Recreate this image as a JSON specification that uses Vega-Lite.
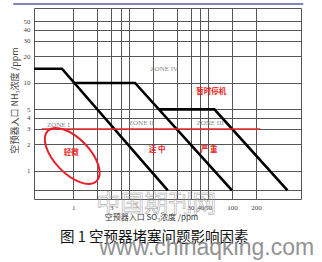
{
  "$schema": "https://vega.github.io/schema/vega-lite/v6.json",
  "width": 267,
  "height": 191,
  "autosize": {"type": "none"},
  "padding": {"left": 34, "top": 8, "right": 21, "bottom": 63},
  "background": "white",
  "config": {
    "font": "Noto Sans CJK SC",
    "view": {"stroke": "#555", "strokeWidth": 1}
  },
  "datasets": {
    "curves": [
      {"series": "A", "i": 0, "x": 0.32, "y": 14.5},
      {"series": "A", "i": 1, "x": 0.72, "y": 14.5},
      {"series": "A", "i": 2, "x": 15.5, "y": 0.6},
      {"series": "B", "i": 0, "x": 1.0, "y": 10},
      {"series": "B", "i": 1, "x": 6.0, "y": 10},
      {"series": "B", "i": 2, "x": 100, "y": 0.6},
      {"series": "C", "i": 0, "x": 12, "y": 5},
      {"series": "C", "i": 1, "x": 60, "y": 5},
      {"series": "C", "i": 2, "x": 500, "y": 0.6}
    ],
    "limit": [{"x": 0.4, "x2": 226, "y": 3}],
    "header": [{"x": 0.175, "x2": 790, "y": 79}],
    "region": [{"x": 0.97, "y": 1.48}],
    "zones": [
      {"label": "ZONE I", "x": 0.65, "y": 3.33},
      {"label": "ZONE II", "x": 7.2, "y": 3.5},
      {"label": "ZONE III", "x": 53, "y": 3.5},
      {"label": "ZONE IV", "x": 14, "y": 14.4}
    ],
    "levels": [
      {"label": "轻微", "x": 0.94, "y": 1.6},
      {"label": "适 中", "x": 11.4, "y": 1.73},
      {"label": "严 重", "x": 51.6, "y": 1.73},
      {"label": "暂时停机", "x": 54.7, "y": 7.9}
    ],
    "caption": [
      {"label": "图 1  空预器堵塞问题影响因素", "x": 10.5, "y": 0.173}
    ],
    "marks": [
      {"label": "中国期刊网", "x": 11.1, "y": 0.41}
    ],
    "site": [
      {"label": "www.chinaqking.com", "x": 48, "y": 0.111}
    ]
  },
  "encoding": {
    "x": {
      "field": "x",
      "type": "quantitative",
      "scale": {"type": "log", "domain": [0.32, 740], "nice": false},
      "axis": {
        "values": [1, 2, 3, 4, 5, 10, 20, 30, 40, 50, 100, 200],
        "labelExpr": "indexof([1, 3, 30, 40, 50, 100, 200], datum.value) >= 0 ? '' + datum.value : ''",
        "grid": true,
        "gridColor": "#555",
        "gridOpacity": 1,
        "gridWidth": 1,
        "domain": false,
        "ticks": false,
        "labelFont": "Liberation Sans Narrow",
        "labelFontSize": 7,
        "labelColor": "#444",
        "labelPadding": 4,
        "labelFlush": false,
        "labelOverlap": false,
        "title": "空预器入口 SO₃浓度 /ppm",
        "titleFont": "Noto Sans CJK SC",
        "titleFontSize": 8,
        "titleFontWeight": "normal",
        "titleColor": "#333",
        "titleAlign": "center",
        "titleBaseline": "middle",
        "titleX": 117,
        "titleY": 18
      }
    },
    "y": {
      "field": "y",
      "type": "quantitative",
      "scale": {"type": "log", "domain": [0.48, 71], "nice": false},
      "axis": {
        "values": [0.6, 1, 2, 3, 4, 5, 10, 20, 30, 40, 50],
        "labelExpr": "datum.value >= 1 ? '' + datum.value : ''",
        "grid": true,
        "gridColor": "#555",
        "gridOpacity": 1,
        "gridWidth": 1,
        "domain": false,
        "ticks": false,
        "labelFont": "Liberation Sans Narrow",
        "labelFontSize": 7,
        "labelColor": "#444",
        "labelPadding": 4,
        "labelFlush": false,
        "labelOverlap": false,
        "title": "空预器入口 NH₃浓度 /ppm",
        "titleFont": "Noto Sans CJK SC",
        "titleFontSize": 9,
        "titleFontWeight": "normal",
        "titleColor": "#444",
        "titleAlign": "center",
        "titleBaseline": "middle",
        "titleX": -20,
        "titleY": 92
      }
    }
  },
  "layer": [
    {
      "data": {"name": "header"},
      "mark": {"type": "rule", "color": "#5a5aa8", "strokeWidth": 1.5},
      "encoding": {"x2": {"field": "x2"}}
    },
    {
      "data": {"name": "curves"},
      "mark": {"type": "line", "color": "#000", "strokeWidth": 2.6, "strokeJoin": "miter"},
      "encoding": {
        "detail": {"field": "series"},
        "order": {"field": "i", "type": "quantitative"}
      }
    },
    {
      "data": {"name": "limit"},
      "mark": {"type": "rule", "color": "#ee2a2a", "strokeWidth": 1.6},
      "encoding": {"x2": {"field": "x2"}}
    },
    {
      "data": {"name": "region"},
      "mark": {
        "type": "point",
        "shape": "M -1 0 A 1 0.5 0 1 1 1 0 A 1 0.5 0 1 1 -1 0 Z",
        "size": 4900,
        "angle": 46,
        "filled": false,
        "color": "#e8202a",
        "strokeWidth": 2,
        "opacity": 1
      }
    },
    {
      "data": {"name": "zones"},
      "mark": {"type": "text", "font": "Liberation Sans Narrow", "fontSize": 7, "color": "#888"},
      "encoding": {"text": {"field": "label"}}
    },
    {
      "data": {"name": "levels"},
      "mark": {"type": "text", "font": "Noto Sans CJK SC", "fontSize": 7.5, "fontWeight": "bold", "color": "#ee2222"},
      "encoding": {"text": {"field": "label"}}
    },
    {
      "data": {"name": "marks"},
      "mark": {"type": "text", "font": "Noto Sans CJK SC", "fontSize": 24, "fill": "#ffffff", "fillOpacity": 0, "stroke": "#999", "strokeWidth": 0.5},
      "encoding": {"text": {"field": "label"}}
    },
    {
      "data": {"name": "caption"},
      "mark": {"type": "text", "font": "Noto Sans CJK SC", "fontSize": 14.5, "color": "#111"},
      "encoding": {"text": {"field": "label"}}
    },
    {
      "data": {"name": "site"},
      "mark": {"type": "text", "font": "Liberation Sans", "fontSize": 23, "baseline": "alphabetic", "color": "#888", "opacity": 0.9},
      "encoding": {"text": {"field": "label"}}
    }
  ]
}
